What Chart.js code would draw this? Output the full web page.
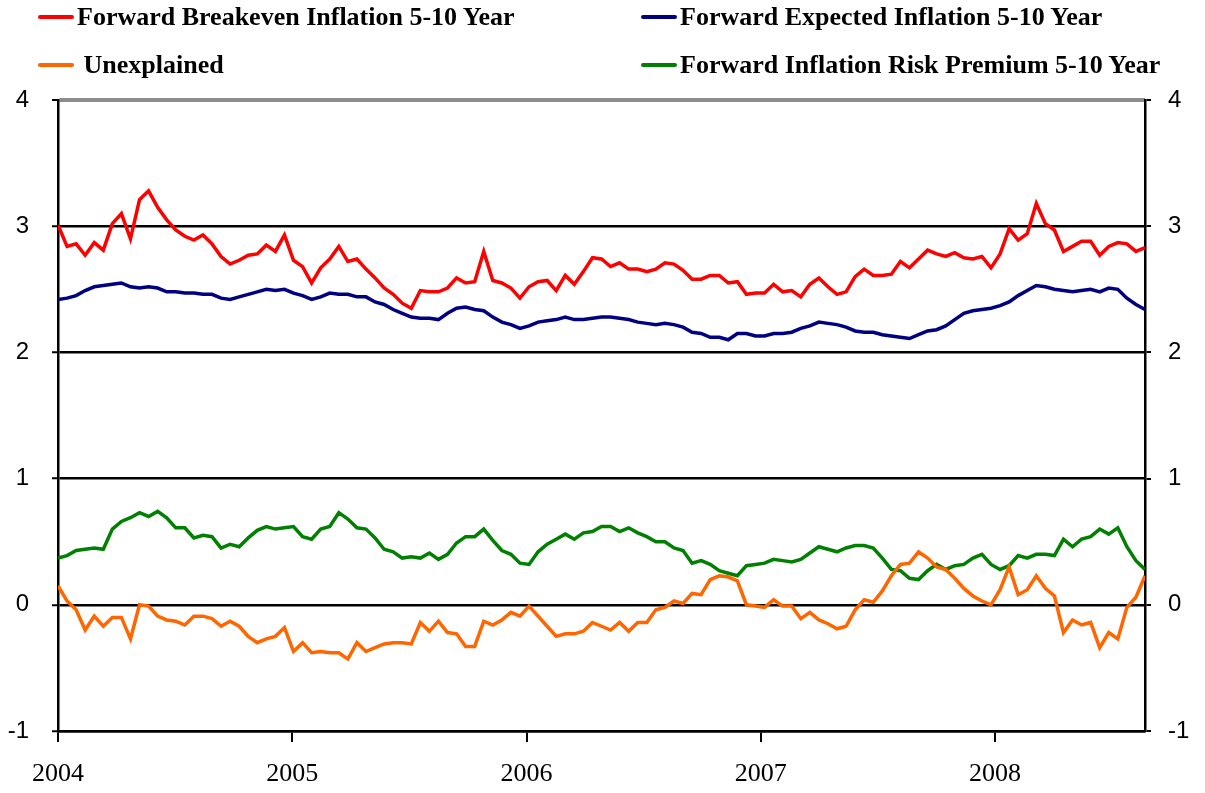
<!DOCTYPE html>
<html>
<head>
<meta charset="utf-8">
<script src="https://cdn.jsdelivr.net/npm/chart.js@4.4.1/dist/chart.umd.min.js"></script>
<style>
  html, body { margin: 0; padding: 0; background: #fff; }
  #wrap { position: relative; width: 1205px; height: 793px; overflow: hidden; }
  #c { position: absolute; left: 0; top: 0; }
  .lg { position: absolute; height: 30px; display: flex; align-items: center; white-space: pre;
        font-family: 'Liberation Serif', 'Times New Roman', serif; font-weight: bold; font-size: 26px; color: #000; }
  .lg .sw { width: 36px; height: 4px; border-radius: 2px; margin-right: 3px; }
</style>
</head>
<body>
<div id="wrap">
  <canvas id="c" width="1205" height="793"></canvas>
</div>
<script>
// ---- data (biweekly readings, Jan 2004 - Aug 2008) ----
const startYear = 2004;
const endYear = 2008.64;
const yearTicks = [2004, 2005, 2006, 2007, 2008];
const yTicks = [-1, 0, 1, 2, 3, 4];

const seriesNames = [
  'Forward Breakeven Inflation 5-10 Year',
  'Forward Expected Inflation 5-10 Year',
  ' Unexplained',
  'Forward Inflation Risk Premium 5-10 Year'
];

const breakeven = [
  3.01, 2.84, 2.86, 2.77, 2.87, 2.81, 3.02, 3.10, 2.90, 3.21,
  3.28, 3.15, 3.05, 2.97, 2.92, 2.89, 2.93, 2.86, 2.76, 2.70,
  2.73, 2.77, 2.78, 2.85, 2.80, 2.93, 2.73, 2.68, 2.55, 2.67,
  2.74, 2.84, 2.72, 2.74, 2.66, 2.59, 2.51, 2.46, 2.39, 2.35,
  2.49, 2.48, 2.48, 2.51, 2.59, 2.55, 2.56, 2.80, 2.57, 2.55,
  2.51, 2.43, 2.52, 2.56, 2.57, 2.49, 2.61, 2.54, 2.64, 2.75,
  2.74, 2.68, 2.71, 2.66, 2.66, 2.64, 2.66, 2.71, 2.70, 2.65,
  2.58, 2.58, 2.61, 2.61, 2.55, 2.56, 2.46, 2.47, 2.47, 2.54,
  2.48, 2.49, 2.44, 2.54, 2.59, 2.52, 2.46, 2.48, 2.60, 2.66,
  2.61, 2.61, 2.62, 2.72, 2.67, 2.74, 2.81, 2.78, 2.76, 2.79,
  2.75, 2.74, 2.76, 2.67, 2.78, 2.98, 2.89, 2.94, 3.18, 3.02,
  2.97, 2.80, 2.84, 2.88, 2.88, 2.77, 2.84, 2.87, 2.86, 2.80,
  2.83
];

const expected = [
  2.42, 2.43, 2.45, 2.49, 2.52, 2.53, 2.54, 2.55, 2.52, 2.51,
  2.52, 2.51, 2.48, 2.48, 2.47, 2.47, 2.46, 2.46, 2.43, 2.42,
  2.44, 2.46, 2.48, 2.50, 2.49, 2.50, 2.47, 2.45, 2.42, 2.44,
  2.47, 2.46, 2.46, 2.44, 2.44, 2.40, 2.38, 2.34, 2.31, 2.28,
  2.27, 2.27, 2.26, 2.31, 2.35, 2.36, 2.34, 2.33, 2.28, 2.24,
  2.22, 2.19, 2.21, 2.24, 2.25, 2.26, 2.28, 2.26, 2.26, 2.27,
  2.28, 2.28, 2.27, 2.26, 2.24, 2.23, 2.22, 2.23, 2.22, 2.20,
  2.16, 2.15, 2.12, 2.12, 2.10, 2.15, 2.15, 2.13, 2.13, 2.15,
  2.15, 2.16, 2.19, 2.21, 2.24, 2.23, 2.22, 2.20, 2.17, 2.16,
  2.16, 2.14, 2.13, 2.12, 2.11, 2.14, 2.17, 2.18, 2.21, 2.26,
  2.31, 2.33, 2.34, 2.35, 2.37, 2.40, 2.45, 2.49, 2.53, 2.52,
  2.50, 2.49, 2.48, 2.49, 2.50, 2.48, 2.51, 2.50, 2.43, 2.38,
  2.34
];

const unexplained = [
  0.15, 0.03, -0.04, -0.20, -0.09, -0.17, -0.10, -0.10, -0.27, 0.00,
  -0.01, -0.09, -0.12, -0.13, -0.16, -0.09, -0.09, -0.11, -0.17, -0.13,
  -0.17, -0.25, -0.30, -0.27, -0.25, -0.18, -0.37, -0.30, -0.38, -0.37,
  -0.38, -0.38, -0.43, -0.30, -0.37, -0.34, -0.31, -0.30, -0.30, -0.31,
  -0.14, -0.21, -0.13, -0.22, -0.23, -0.33, -0.33, -0.13, -0.16, -0.12,
  -0.06, -0.09, -0.01, -0.09, -0.17, -0.25, -0.23, -0.23, -0.21, -0.14,
  -0.17, -0.20, -0.14, -0.21, -0.14, -0.14, -0.04, -0.02, 0.03, 0.01,
  0.09, 0.08, 0.20, 0.23, 0.22, 0.19, 0.00, -0.01, -0.02, 0.04,
  -0.01, -0.01, -0.11, -0.06, -0.12, -0.15, -0.19, -0.17, -0.04, 0.04,
  0.02, 0.11, 0.23, 0.32, 0.33, 0.42, 0.37, 0.30, 0.28, 0.21,
  0.13, 0.07, 0.03, 0.00, 0.12, 0.30, 0.08, 0.12, 0.23, 0.13,
  0.07, -0.22, -0.12, -0.16, -0.14, -0.34, -0.22, -0.27, -0.02, 0.06,
  0.23
];

const riskPremium = [
  0.37, 0.39, 0.43, 0.44, 0.45, 0.44, 0.60, 0.66, 0.69, 0.73,
  0.70, 0.74, 0.69, 0.61, 0.61, 0.53, 0.55, 0.54, 0.45, 0.48,
  0.46, 0.53, 0.59, 0.62, 0.60, 0.61, 0.62, 0.54, 0.52, 0.60,
  0.62, 0.73, 0.68, 0.61, 0.60, 0.53, 0.44, 0.42, 0.37, 0.38,
  0.37, 0.41, 0.36, 0.40, 0.49, 0.54, 0.54, 0.60, 0.51, 0.43,
  0.40, 0.33, 0.32, 0.42, 0.48, 0.52, 0.56, 0.52, 0.57, 0.58,
  0.62, 0.62, 0.58, 0.61, 0.57, 0.54, 0.50, 0.50, 0.45, 0.43,
  0.33, 0.35, 0.32, 0.27, 0.25, 0.23, 0.31, 0.32, 0.33, 0.36,
  0.35, 0.34, 0.36, 0.41, 0.46, 0.44, 0.42, 0.45, 0.47, 0.47,
  0.45, 0.37, 0.28, 0.27, 0.21, 0.20, 0.27, 0.32, 0.28, 0.31,
  0.32, 0.37, 0.40, 0.32, 0.28, 0.31, 0.39, 0.37, 0.40, 0.40,
  0.39, 0.52, 0.46, 0.52, 0.54, 0.60, 0.56, 0.61, 0.46, 0.35,
  0.28
];

const seriesColors = ['#FF0000', '#000080', '#FF6600', '#008000'];

// sample dates (evenly spaced observations across the period)
const nObs = breakeven.length;
const dates = breakeven.map((_, i) => startYear + i * (endYear - startYear) / (nObs - 1));

const allSeries = [breakeven, expected, unexplained, riskPremium];
const datasets = allSeries.map((vals, k) => ({
  label: seriesNames[k],
  data: vals.map((v, i) => ({ x: dates[i], y: v })),
  borderColor: seriesColors[k],
  backgroundColor: seriesColors[k],
  borderWidth: 3.5,
  pointRadius: 0,
  tension: 0,
  fill: false,
  yAxisID: 'y'
}));

const serif = "'Liberation Serif', 'Times New Roman', serif";
const sans = "'Liberation Sans', Arial, sans-serif";

const chart = new Chart(document.getElementById('c'), {
  type: 'line',
  data: { datasets },
  options: {
    responsive: false,
    devicePixelRatio: 1,
    animation: false,
    layout: { padding: { top: 100, left: 0, right: 0, bottom: 0 } },
    plugins: { legend: { display: false }, tooltip: { enabled: false } },
    scales: {
      x: {
        type: 'linear',
        position: 'bottom',
        min: startYear,
        max: endYear,
        afterBuildTicks: s => { s.ticks = yearTicks.map(v => ({ value: v })); },
        afterFit: s => { s.height = 62; },
        ticks: {
          autoSkip: false, maxRotation: 0, padding: 17, color: '#000',
          font: { family: serif, size: 26 },
          callback: v => String(v)
        },
        grid: { drawOnChartArea: false, drawTicks: true, tickLength: 11, color: '#000', lineWidth: 2 },
        border: { display: true, color: '#000', width: 2.5 }
      },
      y: {
        position: 'left',
        min: -1, max: 4,
        afterBuildTicks: s => { s.ticks = yTicks.map(v => ({ value: v })); },
        afterFit: s => { s.width = 58; },
        ticks: { padding: 23, color: '#000', font: { family: sans, size: 24 } },
        grid: {
          color: ctx => (ctx.tick && ctx.tick.value === 4) ? '#8c8c8c' : '#000',
          lineWidth: ctx => (ctx.tick && ctx.tick.value === 4) ? 4 : 2.5,
          tickLength: 6, tickColor: '#000', tickWidth: 2
        },
        border: { display: true, color: '#000', width: 2.5 }
      },
      y2: {
        position: 'right',
        min: -1, max: 4,
        afterBuildTicks: s => { s.ticks = yTicks.map(v => ({ value: v })); },
        afterFit: s => { s.width = 60; },
        ticks: { padding: 17, color: '#000', font: { family: sans, size: 24 } },
        grid: { drawOnChartArea: false, tickLength: 6, color: '#000', lineWidth: 2 },
        border: { display: true, color: '#000', width: 2.5 }
      }
    }
  }
});

// HTML legend built from the chart's datasets (two rows, two columns)
const legendSlots = [
  { left: 38, top: 2 }, { left: 641, top: 2 },
  { left: 38, top: 50 }, { left: 641, top: 50 }
];
const wrap = document.getElementById('wrap');
chart.data.datasets.forEach((ds, k) => {
  const el = document.createElement('div');
  el.className = 'lg';
  el.style.left = legendSlots[k].left + 'px';
  el.style.top = legendSlots[k].top + 'px';
  const sw = document.createElement('span');
  sw.className = 'sw';
  sw.style.background = ds.borderColor;
  const tx = document.createElement('span');
  tx.textContent = ds.label;
  el.appendChild(sw);
  el.appendChild(tx);
  wrap.appendChild(el);
});
</script>
</body>
</html>
